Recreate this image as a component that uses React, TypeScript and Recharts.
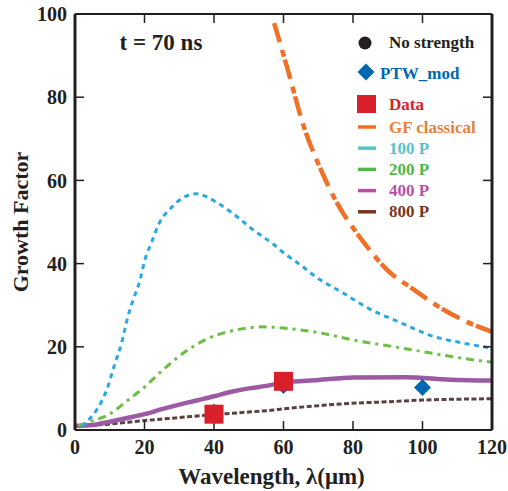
import { ComposedChart, Line, Scatter, XAxis, YAxis, Label } from 'recharts';

// curves (wavelength in um, growth factor)
const gfLambda = [57.3, 61, 65.9, 70.8, 75.4, 81.2, 83.2, 89.8, 97.6, 105.3, 112.8, 120];
const gfValues = [97.8, 87.3, 72.8, 62.5, 54.6, 47.2, 45, 38.5, 33.7, 29.3, 26, 23.6];

const p100Lambda = [2, 3.4, 6.2, 9.1, 11.5, 13.4, 15.2, 16.7, 18.7, 20.1, 22, 24, 28, 31, 35, 38, 41, 46, 51, 57, 60, 65, 69, 77, 85, 94, 102, 111, 120];
const p100Values = [0.8, 2, 4.8, 9.6, 16, 20.9, 27.2, 31.2, 36, 40.9, 45, 49.3, 53.7, 55.8, 56.8, 56, 54.6, 51.7, 48.3, 44.7, 42.6, 39.6, 37, 33, 29, 25.7, 22.8, 21, 19.7];

const p200Lambda = [1, 4.3, 9.5, 15.3, 20.1, 25.9, 31.7, 38.3, 46, 53.7, 60, 70.8, 80.3, 91.8, 102.4, 111, 120];
const p200Values = [1, 2, 3.6, 7.2, 10.4, 14.9, 18.8, 22, 24, 24.8, 24.5, 23.3, 21.6, 20, 18.5, 17.3, 16.3];

const p400Lambda = [0, 5, 10, 15, 20, 25, 30, 35, 40, 45, 50, 55, 60, 70, 80, 95, 108, 120];
const p400Values = [1, 1.2, 2, 2.9, 3.8, 5, 6.1, 7.1, 8.1, 9.2, 10, 10.6, 11.4, 12, 12.6, 12.7, 12.1, 11.9];

const p800Lambda = [0, 9.5, 19.2, 28.8, 38.3, 48, 57, 60, 69.6, 79, 90.6, 100, 120];
const p800Values = [1, 1.4, 2.2, 2.9, 3.6, 4.2, 4.8, 5.1, 5.8, 6.4, 6.8, 7.2, 7.5];

const dataLambda = [40, 60];
const dataValues = [3.8, 11.7];

const ptwLambda = [40, 60, 100];
const ptwValues = [4.3, 10.7, 10.2];

const xTicks = [0, 20, 40, 60, 80, 100, 120];
const yTicks = [0, 20, 40, 60, 80, 100];

const zip = (xs: number[], ys: number[]) => xs.map((x, i) => ({ x, y: ys[i] }));

const FONT = '"Liberation Serif", "Times New Roman", serif';
const INK = '#231f20';
const C = {
  gf: '#f07028', gfText: '#e8803a',
  p100: '#29a9e1', p100Text: '#55c4c8',
  p200: '#6cbf45', p200Text: '#4fb848',
  p400: '#9c5aa5', p400Text: '#b552a8',
  p800: '#5a4040', p800Text: '#7a3520',
  data: '#d9202a', ptw: '#0067b1',
};

const tickStyle = { fontFamily: FONT, fontWeight: 700, fontSize: 20, fill: INK };

const Square = (p: any) => (
  <rect x={p.cx - 9.5} y={p.cy - 9.5} width={19} height={19} fill={C.data} />
);
const Diamond = (p: any) => (
  <path d={`M${p.cx},${p.cy - 8.5}L${p.cx + 8.5},${p.cy}L${p.cx},${p.cy + 8.5}L${p.cx - 8.5},${p.cy}Z`} fill={C.ptw} />
);

const legendLines = [
  { name: 'GF classical', line: C.gf, text: C.gfText },
  { name: '100 P', line: C.p100Text, text: C.p100Text },
  { name: '200 P', line: C.p200Text, text: C.p200Text },
  { name: '400 P', line: C.p400Text, text: C.p400Text },
  { name: '800 P', line: '#7a3520', text: C.p800Text },
];

export default function App() {
  return (
    <div style={{ position: 'absolute', left: 0, top: 0, width: 508, height: 491, background: '#fff' }}>
      <ComposedChart width={508} height={491} margin={{ top: 13, right: 15, left: 0, bottom: 0 }}>
        <XAxis xAxisId="b" type="number" dataKey="x" domain={[0, 120]} ticks={xTicks} height={61}
          allowDataOverflow tickSize={-9} tickMargin={19} tick={tickStyle}
          axisLine={{ stroke: INK, strokeWidth: 2 }} tickLine={{ stroke: INK, strokeWidth: 1.5 }}>
          <Label content={(p: any) => (
            <text x={p.viewBox.x + p.viewBox.width / 2 - 12} y={484} textAnchor="middle"
              style={{ fontFamily: FONT, fontWeight: 700, fontSize: 23, fill: INK }}>
              Wavelength, λ(μm)
            </text>
          )} />
        </XAxis>
        <XAxis xAxisId="t" orientation="top" type="number" dataKey="x" domain={[0, 120]} ticks={xTicks} height={1}
          allowDataOverflow tickSize={-9} tickFormatter={() => ''}
          axisLine={{ stroke: INK, strokeWidth: 2 }} tickLine={{ stroke: INK, strokeWidth: 1.5 }} />
        <YAxis yAxisId="l" type="number" dataKey="y" domain={[0, 100]} ticks={yTicks} width={75}
          allowDataOverflow tickSize={-9} tickMargin={17} tick={tickStyle}
          axisLine={{ stroke: INK, strokeWidth: 3 }} tickLine={{ stroke: INK, strokeWidth: 1.5 }}>
          <Label content={() => (
            <text x={28} y={222} textAnchor="middle" transform="rotate(-90 28 222)"
              style={{ fontFamily: FONT, fontWeight: 700, fontSize: 22, fill: INK }}>
              Growth Factor
            </text>
          )} />
        </YAxis>
        <YAxis yAxisId="r" orientation="right" type="number" dataKey="y" domain={[0, 100]} ticks={yTicks} width={1}
          allowDataOverflow tickSize={-9} tickFormatter={() => ''}
          axisLine={{ stroke: INK, strokeWidth: 3 }} tickLine={{ stroke: INK, strokeWidth: 1.5 }} />

        <Line xAxisId="b" yAxisId="l" data={zip(p800Lambda, p800Values)} dataKey="y" type="monotone"
          stroke={C.p800} strokeWidth={3} strokeDasharray="5 2.5" dot={false} isAnimationActive={false} />
        <Line xAxisId="b" yAxisId="l" data={zip(p400Lambda, p400Values)} dataKey="y" type="monotone"
          stroke={C.p400} strokeWidth={4.5} dot={false} isAnimationActive={false} />
        <Line xAxisId="b" yAxisId="l" data={zip(p200Lambda, p200Values)} dataKey="y" type="monotone"
          stroke={C.p200} strokeWidth={3} strokeDasharray="8 5 3 5" dot={false} isAnimationActive={false} />
        <Line xAxisId="b" yAxisId="l" data={zip(p100Lambda, p100Values)} dataKey="y" type="monotone"
          stroke={C.p100} strokeWidth={3} strokeDasharray="5 4.5" dot={false} isAnimationActive={false} />
        <Line xAxisId="b" yAxisId="l" data={zip(gfLambda, gfValues)} dataKey="y" type="monotone"
          stroke={C.gf} strokeWidth={4.5} strokeDasharray="20 8 7 3" dot={false} isAnimationActive={false} />

        <Scatter xAxisId="b" yAxisId="l" data={zip(ptwLambda, ptwValues)} dataKey="y" shape={Diamond} isAnimationActive={false} />
        <Scatter xAxisId="b" yAxisId="l" data={zip(dataLambda, dataValues)} dataKey="y" shape={Square} isAnimationActive={false} />
      </ComposedChart>

      <svg width={508} height={491} style={{ position: 'absolute', left: 0, top: 0, pointerEvents: 'none' }}>
        <text x={161} y={50} textAnchor="middle" style={{ fontFamily: FONT, fontWeight: 700, fontSize: 23, fill: INK }}>
          t = 70 ns
        </text>
        <g style={{ fontFamily: FONT, fontWeight: 700, fontSize: 17 }}>
          <circle cx={365} cy={43} r={6.5} fill={INK} />
          <text x={389} y={48} fill={INK}>No strength</text>
          <path d="M366,63.5L374.5,72L366,80.5L357.5,72Z" fill={C.ptw} />
          <text x={380} y={79} fill={C.ptw}>PTW_mod</text>
          <rect x={357} y={95} width={19} height={18} fill={C.data} />
          <text x={389} y={110} fill={C.data}>Data</text>
          {legendLines.map((l, i) => (
            <g key={l.name}>
              <line x1={358} x2={376} y1={127 + i * 21.2} y2={127 + i * 21.2} stroke={l.line} strokeWidth={3.5} />
              <text x={389} y={133 + i * 21} fill={l.text}>{l.name}</text>
            </g>
          ))}
        </g>
      </svg>
    </div>
  );
}
